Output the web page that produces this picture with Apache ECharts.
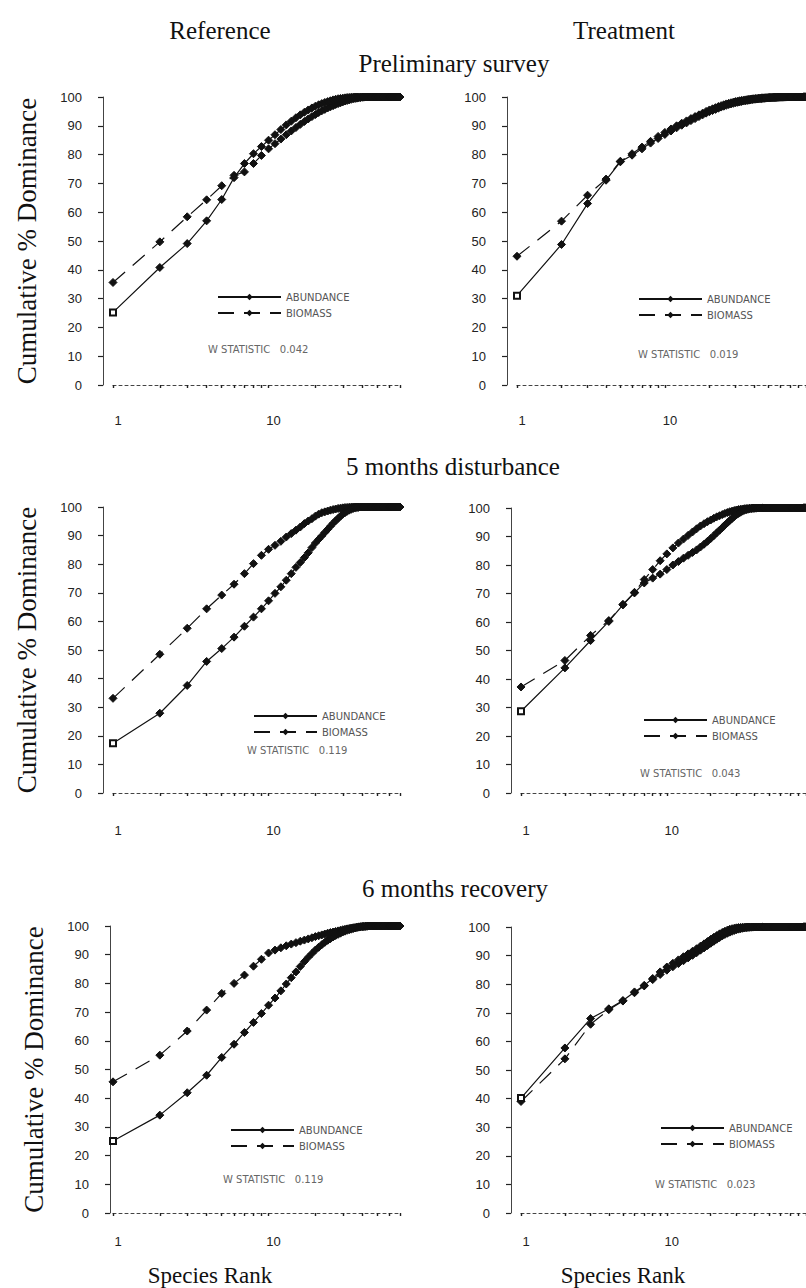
<!DOCTYPE html>
<html><head><meta charset="utf-8">
<script src="https://cdn.jsdelivr.net/npm/echarts@6/dist/echarts.min.js"></script>
<style>html,body{margin:0;padding:0;background:#fff}#c{width:806px;height:1288px}</style>
</head><body><div id="c"></div>
<script>
const columnTitles = ['Reference', 'Treatment'];
const rowTitles = ['Preliminary survey', '5 months disturbance', '6 months recovery'];
const xAxisTitle = 'Species Rank';
const yAxisTitle = 'Cumulative % Dominance';
const legendNames = ['ABUNDANCE', 'BIOMASS'];
const wStatistic = ['0.042', '0.019', '0.119', '0.043', '0.119', '0.023'];
const xTickValues = [1, 2, 3, 4, 5, 6, 7, 8, 9, 10, 20, 30, 40, 50, 60, 70, 80, 90];
const xLabelValues = [1, 10];

const prelimRefAbundance = [
 25.2, 40.8, 49.1, 57.0, 64.4, 72.0, 76.9, 80.3, 82.8, 85.0,
 86.9, 88.7, 90.3, 91.6, 92.8, 93.8, 94.7, 95.5, 96.2, 96.8,
 97.3, 97.7, 98.1, 98.4, 98.7, 99.0, 99.2, 99.4, 99.5, 99.6,
 99.7, 99.8, 99.85, 99.9, 99.95, 100, 100, 100, 100, 100,
 100, 100, 100, 100, 100, 100, 100, 100, 100, 100,
 100, 100, 100, 100, 100, 100, 100, 100, 100, 100,
 100, 100, 100, 100, 100, 100, 100, 100, 100, 100];
const prelimRefBiomass = [
 35.6, 49.7, 58.4, 64.3, 69.2, 72.8, 74.0, 76.9, 79.7, 82.0,
 83.8, 85.4, 86.9, 88.2, 89.4, 90.5, 91.5, 92.4, 93.2, 93.9,
 94.6, 95.2, 95.7, 96.2, 96.6, 97.0, 97.4, 97.7, 98.0, 98.3,
 98.6, 98.8, 99.0, 99.2, 99.4, 99.5, 99.6, 99.7, 99.8, 99.9,
 99.95, 100, 100, 100, 100, 100, 100, 100, 100, 100,
 100, 100, 100, 100, 100, 100, 100, 100, 100, 100,
 100, 100, 100, 100, 100, 100, 100, 100, 100, 100];
const prelimTrtAbundance = [
 31.0, 48.8, 63.0, 71.1, 77.5, 79.8, 82.0, 84.0, 85.6, 87.0,
 88.2, 89.3, 90.2, 91.0, 91.8, 92.5, 93.2, 93.8, 94.4, 94.9,
 95.3, 95.7, 96.1, 96.5, 96.8, 97.1, 97.4, 97.6, 97.8, 98.0,
 98.15, 98.3, 98.45, 98.6, 98.7, 98.8, 98.9, 99.0, 99.1, 99.2,
 99.25, 99.3, 99.35, 99.4, 99.45, 99.5, 99.55, 99.6, 99.65, 99.7,
 99.72, 99.75, 99.78, 99.8, 99.82, 99.84, 99.86, 99.88, 99.9, 99.92,
 99.93, 99.94, 99.95, 99.96, 99.97, 99.98, 99.99, 100, 100, 100,
 100, 100, 100, 100, 100, 100, 100, 100, 100, 100,
 100, 100, 100, 100, 100, 100, 100, 100, 100, 100];
const prelimTrtBiomass = [
 44.7, 56.9, 65.9, 71.5, 77.7, 80.3, 82.6, 84.6, 86.3, 87.7,
 88.9, 90.0, 90.9, 91.7, 92.5, 93.2, 93.8, 94.4, 95.0, 95.5,
 95.9, 96.3, 96.7, 97.0, 97.3, 97.6, 97.8, 98.0, 98.2, 98.4,
 98.55, 98.7, 98.8, 98.9, 99.0, 99.1, 99.2, 99.3, 99.35, 99.4,
 99.45, 99.5, 99.55, 99.6, 99.65, 99.7, 99.72, 99.75, 99.78, 99.8,
 99.82, 99.84, 99.86, 99.88, 99.9, 99.92, 99.94, 99.96, 99.98, 100,
 100, 100, 100, 100, 100, 100, 100, 100, 100, 100,
 100, 100, 100, 100, 100, 100, 100, 100, 100, 100,
 100, 100, 100, 100, 100, 100, 100, 100, 100, 100];
const disturbRefAbundance = [
 17.4, 27.9, 37.6, 46.0, 50.5, 54.5, 58.3, 61.5, 64.4, 67.2,
 69.8, 72.1, 74.4, 76.7, 78.9, 80.6, 82.3, 84.0, 85.8, 87.4,
 88.7, 89.9, 91.1, 92.2, 93.3, 94.3, 95.2, 96.0, 96.8, 97.5,
 98.0, 98.5, 98.9, 99.2, 99.5, 99.7, 99.8, 99.9, 100, 100,
 100, 100, 100, 100, 100, 100, 100, 100, 100, 100,
 100, 100, 100, 100, 100, 100, 100, 100, 100, 100,
 100, 100, 100, 100, 100, 100, 100, 100, 100, 100];
const disturbRefBiomass = [
 33.1, 48.5, 57.6, 64.4, 69.2, 73.0, 76.7, 80.2, 83.1, 85.2,
 86.6, 88.0, 89.5, 90.7, 91.9, 93.0, 94.2, 95.1, 95.9, 96.8,
 97.5, 98.0, 98.3, 98.6, 98.9, 99.1, 99.3, 99.5, 99.6, 99.7,
 99.8, 99.85, 99.9, 99.95, 100, 100, 100, 100, 100, 100,
 100, 100, 100, 100, 100, 100, 100, 100, 100, 100,
 100, 100, 100, 100, 100, 100, 100, 100, 100, 100,
 100, 100, 100, 100, 100, 100, 100, 100, 100, 100];
const disturbTrtAbundance = [
 28.7, 43.9, 53.5, 60.2, 66.0, 70.2, 73.7, 75.4, 76.8, 78.4,
 80.0, 81.2, 82.4, 83.4, 84.4, 85.3, 86.3, 87.3, 88.3, 89.3,
 90.3, 91.3, 92.2, 93.1, 94.0, 94.8, 95.6, 96.3, 97.0, 97.6,
 98.1, 98.5, 98.9, 99.2, 99.4, 99.55, 99.7, 99.8, 99.85, 99.9,
 99.95, 100, 100, 100, 100, 100, 100, 100, 100, 100,
 100, 100, 100, 100, 100, 100, 100, 100, 100, 100,
 100, 100, 100, 100, 100, 100, 100, 100, 100, 100,
 100, 100, 100, 100, 100, 100, 100, 100, 100, 100,
 100, 100, 100, 100, 100, 100, 100, 100, 100, 100];
const disturbTrtBiomass = [
 37.2, 46.5, 55.3, 60.5, 66.2, 70.4, 74.9, 78.4, 81.5, 83.9,
 86.0, 87.7, 89.1, 90.4, 91.6, 92.7, 93.7, 94.5, 95.2, 95.8,
 96.4, 96.9, 97.3, 97.7, 98.1, 98.4, 98.7, 98.9, 99.1, 99.3,
 99.45, 99.55, 99.65, 99.75, 99.8, 99.85, 99.9, 99.95, 100, 100,
 100, 100, 100, 100, 100, 100, 100, 100, 100, 100,
 100, 100, 100, 100, 100, 100, 100, 100, 100, 100,
 100, 100, 100, 100, 100, 100, 100, 100, 100, 100,
 100, 100, 100, 100, 100, 100, 100, 100, 100, 100,
 100, 100, 100, 100, 100, 100, 100, 100, 100, 100];
const recoveryRefAbundance = [
 25.1, 34.1, 41.9, 48.0, 54.2, 58.8, 62.9, 66.4, 69.5, 72.4,
 74.9, 77.4, 79.8, 82.0, 84.0, 85.9, 87.6, 89.1, 90.4, 91.6,
 92.6, 93.5, 94.3, 95.0, 95.6, 96.2, 96.7, 97.1, 97.5, 97.9,
 98.2, 98.5, 98.7, 98.9, 99.1, 99.3, 99.45, 99.6, 99.7, 99.8,
 99.85, 99.9, 99.95, 100, 100, 100, 100, 100, 100, 100,
 100, 100, 100, 100, 100, 100, 100, 100, 100, 100,
 100, 100, 100, 100, 100, 100, 100, 100, 100, 100];
const recoveryRefBiomass = [
 45.7, 55.0, 63.4, 70.7, 76.5, 80.0, 82.9, 86.0, 88.4, 90.6,
 91.6, 92.4, 93.1, 93.7, 94.2, 94.7, 95.1, 95.5, 95.9, 96.3,
 96.6, 96.9, 97.2, 97.5, 97.7, 97.9, 98.1, 98.3, 98.5, 98.7,
 98.85, 99.0, 99.15, 99.3, 99.4, 99.5, 99.6, 99.7, 99.75, 99.8,
 99.85, 99.9, 99.95, 100, 100, 100, 100, 100, 100, 100,
 100, 100, 100, 100, 100, 100, 100, 100, 100, 100,
 100, 100, 100, 100, 100, 100, 100, 100, 100, 100];
const recoveryTrtAbundance = [
 40.2, 57.7, 68.0, 71.4, 74.3, 77.3, 79.6, 82.0, 84.3, 86.0,
 87.3, 88.5, 89.6, 90.6, 91.5, 92.4, 93.3, 94.1, 94.9, 95.7,
 96.4, 97.0, 97.6, 98.1, 98.5, 98.9, 99.2, 99.4, 99.55, 99.7,
 99.8, 99.85, 99.9, 99.95, 100, 100, 100, 100, 100, 100,
 100, 100, 100, 100, 100, 100, 100, 100, 100, 100,
 100, 100, 100, 100, 100, 100, 100, 100, 100, 100,
 100, 100, 100, 100, 100, 100, 100, 100, 100, 100,
 100, 100, 100, 100, 100, 100, 100, 100, 100, 100,
 100, 100, 100, 100, 100, 100, 100, 100, 100, 100];
const recoveryTrtBiomass = [
 39.0, 53.9, 66.0, 71.1, 74.1, 77.0, 79.4, 81.6, 83.4, 84.9,
 86.1, 87.2, 88.2, 89.2, 90.1, 91.0, 91.9, 92.7, 93.5, 94.3,
 95.0, 95.7, 96.3, 96.9, 97.4, 97.8, 98.2, 98.5, 98.8, 99.05,
 99.25, 99.4, 99.55, 99.65, 99.75, 99.82, 99.88, 99.93, 99.97, 100,
 100, 100, 100, 100, 100, 100, 100, 100, 100, 100,
 100, 100, 100, 100, 100, 100, 100, 100, 100, 100,
 100, 100, 100, 100, 100, 100, 100, 100, 100, 100,
 100, 100, 100, 100, 100, 100, 100, 100, 100, 100,
 100, 100, 100, 100, 100, 100, 100, 100, 100, 100];

const panelData = [
  [prelimRefAbundance, prelimRefBiomass],
  [prelimTrtAbundance, prelimTrtBiomass],
  [disturbRefAbundance, disturbRefBiomass],
  [disturbTrtAbundance, disturbTrtBiomass],
  [recoveryRefAbundance, recoveryRefBiomass],
  [recoveryTrtAbundance, recoveryTrtBiomass]
];

// layout only (pixel boxes, axis extents, text anchors)
const layout = [
  {left:113, top:97,  width:287, height:288, xMax:70, xOff:8,  yOff:10, lblM:21, lg:[217,292],  ws:[208,349]},
  {left:517, top:97,  width:291, height:288, xMax:90, xOff:8,  yOff:10, lblM:21, lg:[638,294],  ws:[638,354]},
  {left:113, top:507, width:287, height:286, xMax:70, xOff:10, yOff:10, lblM:21, lg:[253,711],  ws:[247,750]},
  {left:521, top:508, width:301, height:285, xMax:90, xOff:10, yOff:10, lblM:21, lg:[643,715],  ws:[640,773]},
  {left:113, top:926, width:287, height:287, xMax:70, xOff:9,  yOff:3,  lblM:13, lg:[230,1125], ws:[223,1179]},
  {left:521, top:927, width:291, height:286, xMax:90, xOff:9,  yOff:10, lblM:13, lg:[660,1123], ws:[655,1184]}
];

const serif = "'Liberation Serif', 'DejaVu Serif', serif";
const sans = "'Liberation Sans', Arial, sans-serif";
const ink = '#111';

const grids = [], xAxes = [], yAxes = [], series = [], legends = [], graphics = [];

layout.forEach((L, i) => {
  grids.push({left: L.left, top: L.top, width: L.width, height: L.height, containLabel: false});
  xAxes.push({
    type: 'log', logBase: 10, min: 1, max: L.xMax, gridIndex: i, offset: L.xOff,
    splitLine: {show: false},
    axisLine: {show: true, lineStyle: {color: '#444', width: 1, type: [3, 3]}},
    axisTick: {show: true, customValues: xTickValues, length: 3, inside: false, lineStyle: {color: '#222', width: 1.4}},
    minorTick: {show: false},
    axisLabel: {customValues: xLabelValues, margin: L.lblM, fontSize: 13, fontFamily: sans, color: '#222', padding: [0, 0, 0, 10]}
  });
  const isLeft = i % 2 === 0;
  yAxes.push({
    type: 'value', min: 0, max: 100, interval: 10, gridIndex: i, offset: L.yOff,
    splitLine: {show: false},
    axisLine: {show: true, lineStyle: {color: '#444', width: 1}},
    axisTick: {show: true, length: 5, lineStyle: {color: '#222', width: 1.2}},
    axisLabel: {margin: 21, fontSize: 13, fontFamily: sans, color: '#222'},
    name: isLeft ? yAxisTitle : '',
    nameLocation: 'middle', nameRotate: 90, nameGap: 63,
    nameTextStyle: {fontFamily: serif, fontSize: 27, color: ink}
  });
  const [ab, bi] = panelData[i];
  const toPoints = (arr, firstHollow) => arr.map((v, k) => {
    if (k === 0 && firstHollow) return {value: [k + 1, v], symbol: 'emptyRect', symbolSize: 6};
    return [k + 1, v];
  });
  series.push({
    name: legendNames[0], type: 'line', xAxisIndex: i, yAxisIndex: i,
    data: toPoints(ab, true), symbol: 'diamond', symbolSize: 8, showAllSymbol: true,
    lineStyle: {color: ink, width: 1.2, type: 'solid'}, itemStyle: {color: ink, borderColor: ink},
    animation: false, z: 3
  });
  series.push({
    name: legendNames[1], type: 'line', xAxisIndex: i, yAxisIndex: i,
    data: toPoints(bi, false), symbol: 'diamond', symbolSize: 8, showAllSymbol: true,
    lineStyle: {color: ink, width: 1.2, type: [16, 10]}, itemStyle: {color: ink, borderColor: ink},
    animation: false, z: 2
  });
  legends.push({
    data: legendNames, orient: 'vertical', left: L.lg[0], top: L.lg[1], padding: 0,
    itemWidth: 63, itemHeight: 8, itemGap: 6, selectedMode: false,
    textStyle: {fontSize: 10, fontFamily: "'DejaVu Sans', sans-serif", color: '#555', lineHeight: 10}
  });
  graphics.push({
    type: 'text', x: L.ws[0], y: L.ws[1],
    style: {text: 'W STATISTIC   ' + wStatistic[i], font: "10px 'DejaVu Sans', sans-serif", fill: '#666',
            textAlign: 'left', textVerticalAlign: 'middle'}
  });
});

const titleFont = "25px " + serif;
graphics.push({type:'text', x:220, y:30, style:{text: columnTitles[0], font: titleFont, fill: ink, textAlign:'center', textVerticalAlign:'middle'}});
graphics.push({type:'text', x:624, y:30, style:{text: columnTitles[1], font: titleFont, fill: ink, textAlign:'center', textVerticalAlign:'middle'}});
graphics.push({type:'text', x:454, y:63, style:{text: rowTitles[0], font: titleFont, fill: ink, textAlign:'center', textVerticalAlign:'middle'}});
graphics.push({type:'text', x:453, y:466, style:{text: rowTitles[1], font: titleFont, fill: ink, textAlign:'center', textVerticalAlign:'middle'}});
graphics.push({type:'text', x:455, y:888, style:{text: rowTitles[2], font: titleFont, fill: ink, textAlign:'center', textVerticalAlign:'middle'}});
graphics.push({type:'text', x:210, y:1275, style:{text: xAxisTitle, font: "23px " + serif, fill: ink, textAlign:'center', textVerticalAlign:'middle'}});
graphics.push({type:'text', x:623, y:1275, style:{text: xAxisTitle, font: "23px " + serif, fill: ink, textAlign:'center', textVerticalAlign:'middle'}});

const chart = echarts.init(document.getElementById('c'), null, {renderer: 'svg', width: 806, height: 1288});
chart.setOption({
  backgroundColor: '#fff',
  animation: false,
  grid: grids, xAxis: xAxes, yAxis: yAxes, series: series, legend: legends, graphic: graphics
});
</script></body></html>
